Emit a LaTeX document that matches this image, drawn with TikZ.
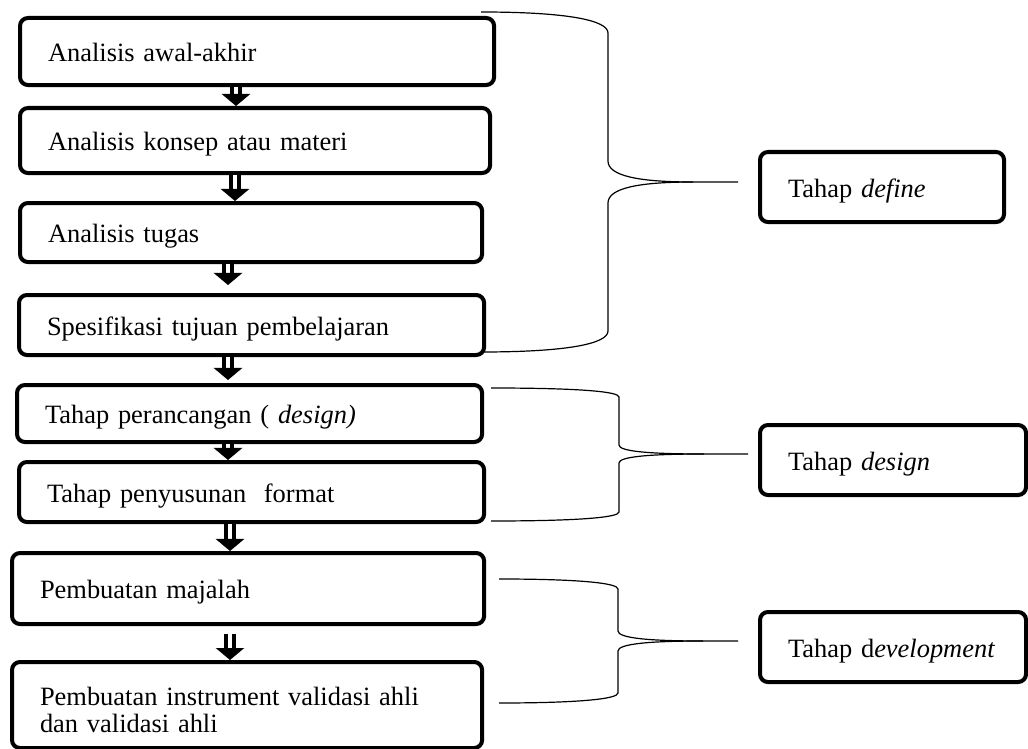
\documentclass[tikz,border=0pt]{standalone}
\usepackage{fontspec}
\setmainfont{Liberation Serif}
\usetikzlibrary{arrows.meta}

\tikzset{
  stepbox/.style={draw, line width=0.1cm, rounded corners=0.2cm, anchor=north west,
    inner xsep=0.7cm, inner ysep=0pt, align=left, text height=0.5cm, text depth=0cm,
    font=\fontsize{18.8}{19.9}\selectfont},
  flowarrow/.style={double, line width=0.12cm, double distance=0.08cm,
    -{Triangle[width=0.7cm,length=0.3cm]}},
  phaseline/.style={line width=0.03cm}
}

\begin{document}
\begin{tikzpicture}[x=0.025cm,y=-0.025cm]
  \useasboundingbox (0,0) rectangle (1028,749);
  % tahap define
  \node[stepbox, text width=10.45cm, minimum height=1.675cm] (awal) at (18,16) {Analisis awal-akhir};
  \node[stepbox, text width=10.35cm, minimum height=1.625cm] (konsep) at (18,106) {Analisis konsep atau materi};
  \node[stepbox, text width=10.15cm, minimum height=1.475cm] (tugas) at (18,201) {Analisis tugas};
  \node[stepbox, text width=10.225cm, minimum height=1.5cm] (tujuan) at (17,293) {Spesifikasi tujuan pembelajaran};
  % tahap design
  \node[stepbox, text width=10.225cm, minimum height=1.425cm] (rancang) at (15,383) {Tahap perancangan ( \textit{design)}};
  \node[stepbox, text width=10.225cm, minimum height=1.5cm] (format) at (17,460) {Tahap penyusunan\ \ format};
  % tahap development
  \node[stepbox, text width=10.4cm, minimum height=1.775cm] (majalah) at (10,551) {Pembuatan majalah};
  \node[stepbox, text width=10.35cm, minimum height=2.15cm, text depth=0.5cm] (validasi) at (10,660) {Pembuatan instrument validasi ahli\\dan validasi ahli};
  % tahap di kanan
  \node[stepbox, text width=4.7cm, minimum height=1.75cm] (define) at (758,150) {Tahap \textit{define}};
  \node[stepbox, text width=5.25cm, minimum height=1.75cm] (design) at (758,423) {Tahap \textit{design}};
  \node[stepbox, text width=5.25cm, minimum height=1.75cm] (develop) at (758,610) {Tahap d\textit{evelopment}};

  % panah antar langkah
  \draw[flowarrow] (236,0 |- awal.south) -- (236,0 |- konsep.north);
  \draw[flowarrow] (235,0 |- konsep.south) -- (235,0 |- tugas.north);
  \draw[flowarrow] (228,0 |- tugas.south) -- ([yshift=0.2cm]228,0 |- tujuan.north);
  \draw[flowarrow] (228,0 |- tujuan.south) -- ([yshift=0.075cm]228,0 |- rancang.north);
  \draw[flowarrow] (228,0 |- rancang.south) -- (228,0 |- format.north);
  \draw[flowarrow] (230,0 |- format.south) -- (230,0 |- majalah.north);
  \draw[flowarrow] ([yshift=-0.2cm]230,0 |- majalah.south) -- (230,0 |- validasi.north);

  % kurung kurawal
  \foreach \n/\xl/\yt/\yb/\xv/\ym/\xe/\c in {define/481/12/352/608/182/738/21,
      design/491/388/521/619/454/748/9, develop/499/579/703/618/641/738/10}{
    \coordinate (\n tip) at (\xe,\ym);
    \draw[phaseline] (\xl,\yt) .. controls (\xv-40,\yt) and (\xv,\yt+\c*0.4) .. (\xv,\yt+\c)
      -- (\xv,\ym-\c) .. controls (\xv,\ym-\c*0.3) and (\xv+30,\ym) .. (\xv+85,\ym) -- (\n tip);
    \draw[phaseline] (\xl,\yb) .. controls (\xv-40,\yb) and (\xv,\yb-\c*0.4) .. (\xv,\yb-\c)
      -- (\xv,\ym+\c) .. controls (\xv,\ym+\c*0.3) and (\xv+30,\ym) .. (\xv+85,\ym);
  }
\end{tikzpicture}
\end{document}
